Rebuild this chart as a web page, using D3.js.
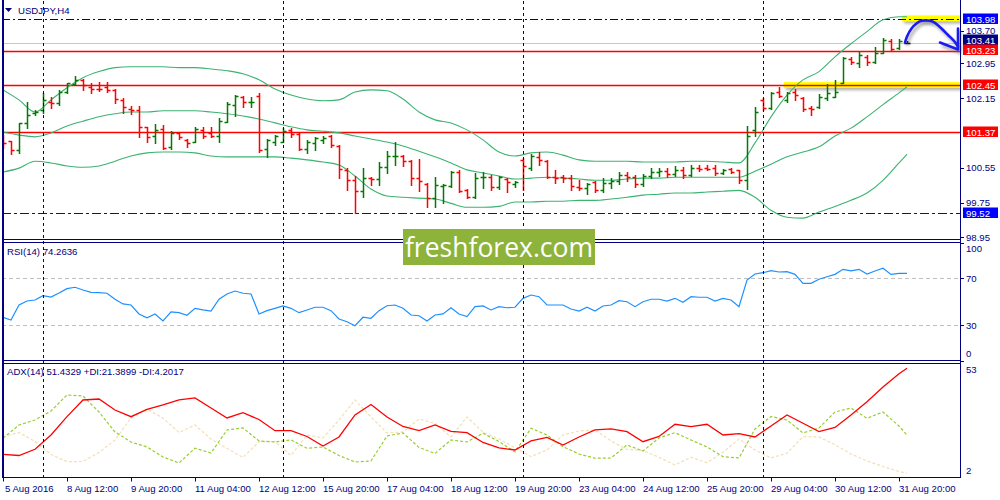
<!DOCTYPE html>
<html><head><meta charset="utf-8">
<script src="https://cdn.jsdelivr.net/npm/d3@7/dist/d3.min.js"></script>
<style>
html,body{margin:0;padding:0;background:#fff;}
svg{display:block;font-family:"Liberation Sans",Arial,sans-serif;}
</style></head><body>
<svg id="chart" width="1000" height="500"></svg>
<script>
// ---------------- DATA ----------------
const symbolTitle = "USDJPY,H4";
const rsiTitle = "RSI(14) 74.2636";
const adxTitle = "ADX(14) 51.4329 +DI:21.3899 -DI:4.2017";
const logoText = "freshforex.com";

const open = [101.19,101.16,100.96,101.58,101.81,101.88,102.06,102.04,102.29,102.48,
102.57,102.41,102.37,102.41,102.34,102.11,101.90,101.88,101.49,101.28,
101.44,101.03,101.35,101.19,101.14,101.42,101.35,101.28,101.60,102.00,
102.18,102.06,102.20,100.98,101.14,101.14,101.42,101.33,100.98,101.12,
101.19,101.28,101.05,100.50,100.26,100.01,100.31,100.29,100.56,100.81,
100.82,100.70,100.31,100.17,99.85,100.13,100.13,100.45,100.03,99.87,
100.33,100.33,100.10,100.29,100.17,100.73,100.54,100.80,100.70,100.34,
100.33,100.31,100.10,100.08,100.22,100.03,100.19,100.24,100.38,100.33,
100.17,100.36,100.45,100.47,100.40,100.50,100.38,100.54,100.54,100.54,
100.43,100.52,100.50,100.26,101.42,102.11,101.93,102.29,102.11,102.29,
102.16,101.93,101.95,102.16,102.18,102.50,103.06,102.96,103.10,102.99,
103.19,103.47,103.31,103.42];
const high = [101.30,101.16,101.58,102.06,101.88,102.27,102.18,102.34,102.50,102.66,
102.59,102.50,102.52,102.52,102.36,102.16,101.97,101.97,101.49,101.56,
101.53,101.39,101.35,101.21,101.49,101.49,101.49,101.69,102.06,102.22,
102.20,102.18,102.27,101.21,101.30,101.46,101.46,101.35,101.19,101.26,
101.28,101.30,101.07,100.54,100.36,100.54,100.33,100.68,100.93,101.14,
100.84,100.73,100.75,100.20,100.33,100.17,100.47,100.50,100.06,100.43,
100.45,100.38,100.36,100.31,100.24,100.77,100.86,100.91,100.73,100.50,
100.38,100.38,100.26,100.20,100.24,100.31,100.31,100.45,100.45,100.38,
100.40,100.54,100.54,100.54,100.59,100.56,100.61,100.61,100.61,100.61,
100.52,100.54,100.50,101.51,101.95,102.16,102.29,102.41,102.29,102.36,
102.18,101.97,102.25,102.48,102.57,103.10,103.10,103.24,103.15,103.33,
103.54,103.52,103.52,103.46];
const low = [101.00,100.86,100.89,101.46,101.76,101.81,101.93,101.99,102.27,102.46,
102.34,102.27,102.32,102.29,102.04,101.81,101.79,101.26,101.14,101.12,
100.98,100.98,101.21,101.03,101.14,101.23,101.26,101.14,101.60,101.74,
101.95,101.95,100.91,100.80,101.07,101.14,101.26,100.96,100.89,100.96,
101.12,101.03,100.31,100.03,99.50,99.87,100.15,100.15,100.43,100.61,
100.59,100.15,100.01,99.64,99.64,99.73,100.10,99.99,99.85,99.85,
100.08,100.03,100.06,99.99,100.10,100.03,100.50,100.61,100.31,100.20,
100.22,100.03,100.03,99.94,99.99,99.99,100.08,100.17,100.24,100.10,
100.13,100.31,100.36,100.33,100.36,100.31,100.36,100.47,100.50,100.38,
100.40,100.43,100.20,100.06,101.28,101.88,101.90,102.18,102.06,102.11,
101.86,101.76,101.93,102.11,102.18,102.50,102.94,102.87,102.92,102.96,
103.19,103.26,103.29,103.41];
const close = [101.12,100.96,101.58,101.76,101.83,102.11,102.04,102.29,102.50,102.57,
102.46,102.36,102.35,102.34,102.13,101.95,101.88,101.49,101.26,101.42,
101.00,101.35,101.26,101.12,101.44,101.28,101.28,101.63,102.02,102.20,
102.06,102.07,100.96,101.19,101.28,101.39,101.33,100.98,101.14,101.23,
101.23,101.07,100.52,100.26,100.01,100.31,100.29,100.56,100.82,100.83,
100.70,100.31,100.24,99.85,100.15,100.15,100.45,100.01,99.87,100.31,
100.34,100.10,100.33,100.22,100.23,100.59,100.82,100.73,100.33,100.32,
100.31,100.13,100.08,100.17,100.03,100.19,100.24,100.38,100.33,100.17,
100.36,100.45,100.47,100.40,100.50,100.38,100.54,100.52,100.52,100.43,
100.50,100.45,100.26,101.28,101.83,101.93,102.27,102.20,102.27,102.22,
101.90,101.91,102.18,102.27,102.29,103.08,102.99,103.15,102.99,103.19,
103.49,103.29,103.47,103.41];

// Bollinger bands, read every second bar (plus the last bar)
const bbUpper = [102.34,102.11,101.83,102.11,102.39,102.62,102.76,102.85,102.87,102.87,
102.87,102.85,102.85,102.82,102.78,102.71,102.57,102.36,102.22,102.13,
102.09,102.11,102.29,102.34,102.32,102.13,101.83,101.65,101.58,101.42,
101.19,100.91,100.82,100.89,100.91,100.84,100.73,100.70,100.70,100.70,
100.68,100.68,100.68,100.70,100.70,100.68,100.66,101.12,101.72,102.22,
102.57,102.76,103.10,103.40,103.68,103.95,104.02,104.02];
const bbMiddle = [101.37,101.30,101.26,101.35,101.51,101.62,101.72,101.79,101.83,101.83,
101.86,101.86,101.86,101.83,101.79,101.74,101.67,101.58,101.49,101.42,
101.39,101.35,101.28,101.21,101.14,101.05,100.93,100.80,100.66,100.50,
100.43,100.36,100.29,100.31,100.33,100.31,100.29,100.26,100.26,100.29,
100.31,100.31,100.33,100.33,100.33,100.33,100.33,100.47,100.63,100.80,
100.91,101.03,101.28,101.46,101.72,102.00,102.27,102.41];
const bbLower = [100.45,100.54,100.70,100.66,100.59,100.56,100.59,100.70,100.82,100.89,
100.91,100.91,100.89,100.82,100.80,100.80,100.80,100.80,100.77,100.73,
100.68,100.61,100.36,100.06,99.90,99.87,99.85,99.83,99.73,99.64,
99.64,99.66,99.76,99.76,99.78,99.78,99.80,99.80,99.83,99.87,
99.92,99.94,99.97,99.97,99.99,100.01,100.03,99.87,99.57,99.41,
99.39,99.53,99.66,99.80,99.97,100.26,100.66,100.86];

const rsi = [36.9,34.6,47.3,50.7,51.6,55.2,54.1,57.5,61.2,62.4,
60.1,58.1,57.8,57.3,52.2,48.2,47.3,39.7,36.5,39.7,
33.7,41.4,40.8,38.6,44.5,43.1,42.2,52.2,56.7,59.2,
57.3,56.7,39.7,42.5,44.5,46.5,44.5,40.8,43.1,45.4,
45.4,42.5,35.4,33.1,29.7,36.9,36.0,42.5,46.7,47.3,
44.5,38.8,38.2,33.7,38.8,39.7,45.0,39.7,37.4,45.9,
46.5,43.1,45.9,45.0,45.4,53.0,55.8,54.4,47.3,47.3,
47.3,43.9,42.2,45.4,42.2,46.5,47.3,51.0,50.1,45.9,
50.1,52.2,52.2,50.7,53.0,49.6,54.4,53.9,53.9,50.7,
53.0,51.6,45.9,68.6,73.7,74.8,76.5,75.4,75.7,73.4,
65.8,65.8,69.2,71.4,73.4,77.7,76.3,77.7,73.7,76.3,
78.6,73.4,74.3,74.26];

// ADX lines, read every second bar (plus the last bar)
const adx = [12.75,12.21,15.00,21.43,29.67,37.18,37.63,32.68,29.67,32.99,
34.93,37.18,38.08,33.58,29.08,31.46,28.40,23.37,23.37,20.76,
16.49,20.54,30.43,35.16,29.53,25.26,23.37,25.94,23.10,22.47,
18.06,15.68,14.69,18.74,20.31,16.94,20.54,23.69,24.14,22.92,
18.42,20.76,26.25,25.17,26.25,21.43,22.02,20.54,25.48,30.43,
26.70,22.92,24.81,30.43,36.42,43.03,49.01,51.43];
const plusDI = [19.95,25.94,28.19,32.23,39.43,38.98,31.78,22.79,18.29,16.04,
11.54,8.84,15.46,13.34,23.69,24.59,18.74,18.29,19.19,15.46,
16.04,12.22,9.29,9.74,20.99,22.34,15.82,13.12,19.19,18.29,
22.20,18.51,13.79,24.45,21.43,16.17,12.89,10.96,11.09,16.94,
14.24,20.09,22.47,19.19,16.04,11.67,11.09,24.14,29.76,28.19,
22.34,24.59,31.78,33.58,28.94,31.78,25.48,21.39];
const minusDI = [20.68,22.56,18.52,12.66,9.43,9.52,13.57,19.19,29.08,33.13,
28.95,22.56,25.94,19.64,15.46,11.32,18.42,18.42,12.21,21.43,
20.09,28.18,37.18,29.53,22.34,22.79,28.64,26.61,20.54,29.53,
22.65,19.64,15.68,11.68,14.69,21.43,23.24,23.69,18.74,14.92,
14.47,11.41,7.94,11.41,8.93,13.66,19.64,14.69,11.09,13.21,
20.68,20.54,17.03,12.89,9.74,7.27,5.02,4.20];

const priceTicks = [103.70, 102.95, 102.15, 100.55, 99.75, 98.95];
const rsiTicks = [100, 70, 30, 0];
const rsiLevels = [70, 30];
const adxTicks = [53, 2];
const xLabels = ["5 Aug 2016","8 Aug 12:00","9 Aug 20:00","11 Aug 04:00","12 Aug 12:00",
  "15 Aug 20:00","17 Aug 04:00","18 Aug 12:00","19 Aug 20:00","23 Aug 04:00",
  "24 Aug 12:00","25 Aug 20:00","29 Aug 04:00","30 Aug 12:00","31 Aug 20:00"];
const xLabelBars = [0,8,16,24,32,40,48,56,64,72,80,88,96,104,112];
const weekStartBars = [5,35,65,95];
const redLevels = [103.23, 102.45, 101.37];
const bidPrice = 103.41;
const topLevel = 103.98;
const bottomLevel = 99.52;

// ---------------- DRAW ----------------
const svg = d3.select("#chart");
const NAVY = "#000080";
const n = open.length;
const bbIdx = d3.range(0, n - 1, 2).concat([n - 1]);
const L = 2, R = 960;
const P = { main:{top:1,bottom:239.5}, rsi:{top:242.5,bottom:360.5}, adx:{top:363.5,bottom:477.5} };

const x = d3.scaleLinear().domain([0, n - 1]).range([3, 907]);
const px = i => Math.round(x(i));
const yP = d3.scaleLinear().domain([98.95, 103.70]).range([237.3, 30.7]);
const yR = d3.scaleLinear().domain([0, 100]).range([360.6, 243.1]);
const yA = d3.scaleLinear().domain([2.53, 53.14]).range([477, 364.5]);

svg.append("rect").attr("width",1000).attr("height",500).attr("fill","#fff");
const defs = svg.append("defs");
Object.entries(P).forEach(([k,p]) => {
  defs.append("clipPath").attr("id","clip-"+k).append("rect")
    .attr("x", L+1).attr("y", p.top+0.5).attr("width", R-L-1).attr("height", p.bottom-p.top-1);
});
const blur = defs.append("filter").attr("id","blur").attr("x","-20%").attr("y","-100%").attr("width","140%").attr("height","300%");
blur.append("feGaussianBlur").attr("stdDeviation",1.6);

// ---- main panel ----
const gm = svg.append("g").attr("clip-path","url(#clip-main)");
function highlight(v, fromIdx){
  const x0 = x(fromIdx), y0 = yP(v);
  gm.append("rect").attr("x",x0+2).attr("y",y0-1).attr("width",R-x0).attr("height",6)
    .attr("fill","#777").attr("opacity",0.6).attr("filter","url(#blur)");
  gm.append("rect").attr("x",x0).attr("y",y0-3).attr("width",R-x0).attr("height",6).attr("fill","#ffff00");
}
highlight(redLevels[1], 97.6);
highlight(topLevel, 112.4);

gm.append("line").attr("x1",L).attr("x2",R).attr("y1",Math.round(yP(bidPrice))+0.5).attr("y2",Math.round(yP(bidPrice))+0.5)
  .attr("stroke","#c8c8c8").attr("stroke-width",1);
redLevels.forEach(v => {
  const yy = Math.round(yP(v)) + 0.5;
  gm.append("line").attr("x1",L).attr("x2",R).attr("y1",yy).attr("y2",yy).attr("stroke","#ff0000").attr("stroke-width",1.4);
});
gm.append("line").attr("x1",L).attr("x2",R).attr("y1",Math.round(yP(topLevel))+0.5).attr("y2",Math.round(yP(topLevel))+0.5)
  .attr("stroke",NAVY).attr("stroke-width",1.2).attr("stroke-dasharray","8,3,2,3");
gm.append("line").attr("x1",L).attr("x2",R).attr("y1",Math.round(yP(bottomLevel))+0.5).attr("y2",Math.round(yP(bottomLevel))+0.5)
  .attr("stroke","#0000ff").attr("stroke-width",1.2).attr("stroke-dasharray","9,3,3,3");

// Bollinger bands
const bbLine = d3.line().x((d,k) => x(bbIdx[k])).y(d => yP(d)).curve(d3.curveMonotoneX);
[bbUpper, bbMiddle, bbLower].forEach(s => {
  gm.append("path").attr("d", bbLine(s)).attr("fill","none").attr("stroke","#3cb371").attr("stroke-width",1.1);
});

// OHLC bars
const bars = gm.append("g").attr("stroke-width",1.5).attr("fill","none");
d3.range(n).forEach(i => {
  const c = i === n - 1 ? "#000" : (close[i] >= open[i] ? "#007a00" : "#ff0000");
  const xc = px(i) + 0.5;
  const yh = Math.round(yP(high[i])), yl = Math.round(yP(low[i]));
  const yo = Math.round(yP(open[i])) + 0.5, yc = Math.round(yP(close[i])) + 0.5;
  bars.append("line").attr("x1",xc).attr("x2",xc).attr("y1",yh).attr("y2",yl+1).attr("stroke",c);
  bars.append("line").attr("x1",xc-3).attr("x2",xc).attr("y1",yo).attr("y2",yo).attr("stroke",c);
  bars.append("line").attr("x1",xc).attr("x2",xc+3).attr("y1",yc).attr("y2",yc).attr("stroke",c);
});

// hand-drawn arrow
const arrowPts = [[905,42.5],[907,36.5],[911.5,28.5],[916.5,23.5],[921.5,20.8],[930,20.8],[935,22.8],[941.5,28.5],[948,35],[954.5,41.5],[958,46.5]];
const arrowHead = [[940,42.5],[958,49.5],[958,28.5]];
const arr = svg.append("g");
const aLine = d3.line().curve(d3.curveCatmullRom);
arr.append("path").attr("d",aLine(arrowPts)).attr("transform","translate(2,3)").attr("fill","none").attr("stroke","#666").attr("stroke-width",3).attr("opacity",0.5).attr("filter","url(#blur)");
arr.append("path").attr("d",d3.line()(arrowHead)).attr("transform","translate(2,3)").attr("fill","none").attr("stroke","#666").attr("stroke-width",3).attr("opacity",0.5).attr("filter","url(#blur)");
arr.append("path").attr("d",aLine(arrowPts)).attr("fill","none").attr("stroke","#1c1cf0").attr("stroke-width",2.6).attr("stroke-linecap","round");
arr.append("path").attr("d",d3.line()(arrowHead)).attr("fill","none").attr("stroke","#1c1cf0").attr("stroke-width",2.6).attr("stroke-linejoin","round").attr("stroke-linecap","round");

// ---- RSI panel ----
const gr = svg.append("g").attr("clip-path","url(#clip-rsi)");
rsiLevels.forEach(v => {
  const yy = Math.round(yR(v)) + 0.5;
  gr.append("line").attr("x1",L).attr("x2",R).attr("y1",yy).attr("y2",yy).attr("stroke","#c0c0c0").attr("stroke-dasharray","4,3");
});
gr.append("path").attr("d", d3.line().x((d,i)=>x(i)).y(d=>yR(d))(rsi)).attr("fill","none").attr("stroke","#1e90ff").attr("stroke-width",1.2);

// ---- ADX panel ----
const ga = svg.append("g").attr("clip-path","url(#clip-adx)");
const aLineF = d3.line().x((d,k) => x(bbIdx[k])).y(d => yA(d));
ga.append("path").attr("d", aLineF(minusDI)).attr("fill","none").attr("stroke","#f5deb3").attr("stroke-width",1.2).attr("stroke-dasharray","3,2");
ga.append("path").attr("d", aLineF(plusDI)).attr("fill","none").attr("stroke","#9acd32").attr("stroke-width",1.2).attr("stroke-dasharray","3,2");
ga.append("path").attr("d", aLineF(adx)).attr("fill","none").attr("stroke","#ff0000").attr("stroke-width",1.3);

// week separators
weekStartBars.forEach(b => {
  const xx = px(b) + 0.5;
  svg.append("line").attr("x1",xx).attr("x2",xx).attr("y1",P.main.top).attr("y2",P.adx.bottom)
    .attr("stroke",NAVY).attr("stroke-width",1).attr("stroke-dasharray","3,3");
});

// frames
const fr = svg.append("g").attr("stroke",NAVY).attr("shape-rendering","crispEdges");
fr.append("line").attr("x1",2.5).attr("x2",2.5).attr("y1",0).attr("y2",P.adx.bottom).attr("stroke-width",2);
fr.append("line").attr("x1",R+0.5).attr("x2",R+0.5).attr("y1",0).attr("y2",P.adx.bottom+0.5);
[P.main.bottom, P.rsi.top, P.rsi.bottom, P.adx.top, P.adx.bottom].forEach(yy => {
  fr.append("line").attr("x1",L).attr("x2",R+1).attr("y1",yy).attr("y2",yy);
});

// ---- right axis labels ----
const fs = 9.6;
const axG = svg.append("g").attr("font-size",fs).attr("fill",NAVY);
priceTicks.forEach(v => {
  const yy = yP(v);
  svg.append("line").attr("x1",R).attr("x2",R+4).attr("y1",Math.round(yy)+0.5).attr("y2",Math.round(yy)+0.5).attr("stroke",NAVY);
  axG.append("text").attr("x",966).attr("y",yy+3.4).text(v.toFixed(2));
});
// price-level boxes; the bid box sits just above the 103.23 box as in the terminal
const levelBoxes = [[topLevel,"#0000ff",0],[bidPrice,"#000080",-3],[redLevels[0],"#ff0000",-1],[redLevels[1],"#ff0000",0],[redLevels[2],"#ff0000",0],[bottomLevel,"#0000ff",0]];
levelBoxes.forEach(([v,col,dy]) => {
  const yy = Math.round(yP(v)) + dy;
  svg.append("rect").attr("x",963).attr("y",yy-5.5).attr("width",35).attr("height",10.5).attr("fill",col);
  svg.append("text").attr("x",966).attr("y",yy+3.5).attr("font-size",fs).attr("fill","#fff").text(v.toFixed(2));
});
rsiTicks.forEach(v => {
  const yy = Math.max(P.rsi.top+6.5, Math.min(P.rsi.bottom-7, yR(v)));
  svg.append("line").attr("x1",R).attr("x2",R+4).attr("y1",Math.round(yR(v))+0.5).attr("y2",Math.round(yR(v))+0.5).attr("stroke",NAVY);
  axG.append("text").attr("x",966).attr("y",yy+3.4).text(v);
});
adxTicks.forEach(v => {
  const yy = Math.max(P.adx.top+6.5, Math.min(P.adx.bottom-7, yA(v)));
  axG.append("text").attr("x",966).attr("y",yy+3.4).text(v);
});

// ---- bottom axis ----
xLabelBars.forEach((b,k) => {
  const xx = px(b) + 0.5;
  svg.append("line").attr("x1",xx).attr("x2",xx).attr("y1",P.adx.bottom).attr("y2",P.adx.bottom+4).attr("stroke",NAVY);
  axG.append("text").attr("x",px(b) + (k === 0 ? 2 : 0)).attr("y",492).text(xLabels[k]);
});

// ---- titles ----
svg.append("path").attr("d","M5,8 L12,8 L8.5,12 Z").attr("fill",NAVY);
svg.append("text").attr("x",18).attr("y",14).attr("font-size",fs).attr("fill",NAVY).text(symbolTitle);
svg.append("text").attr("x",7).attr("y",255).attr("font-size",fs).attr("fill",NAVY).text(rsiTitle);
svg.append("text").attr("x",7).attr("y",375).attr("font-size",fs).attr("fill",NAVY).text(adxTitle);

// ---- logo ----
svg.append("rect").attr("x",403).attr("y",229).attr("width",192).attr("height",36).attr("fill","#8db33a");
svg.append("text").attr("x",499).attr("y",256.5).attr("text-anchor","middle").attr("font-family","'Open Sans',sans-serif")
  .attr("font-size",26.5).attr("fill","#fff").text(logoText);
</script>
</body></html>
